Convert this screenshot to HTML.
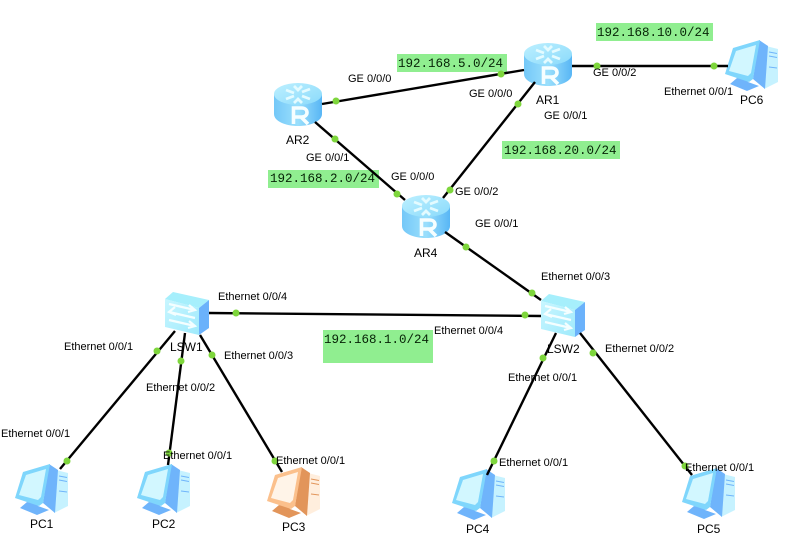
<!DOCTYPE html>
<html>
<head>
<meta charset="utf-8">
<style>
html,body{margin:0;padding:0;background:#fff;width:790px;height:554px;overflow:hidden}
svg{display:block}
text{font-family:"Liberation Sans",Arial,sans-serif;font-size:11px;fill:#000}
.n{font-size:12px}
.ip{font-family:"Liberation Mono",monospace;font-size:12.5px;fill:#062206}
</style>
</head>
<body>
<svg width="790" height="554" viewBox="0 0 790 554" xmlns="http://www.w3.org/2000/svg">
<defs>
<linearGradient id="rb" x1="0" x2="1" y1="0" y2="0"><stop offset="0" stop-color="#74c8f8"/><stop offset=".5" stop-color="#9adffc"/><stop offset="1" stop-color="#58b6f5"/></linearGradient>
<linearGradient id="rt" x1="0" x2="1" y1="0" y2="1"><stop offset="0" stop-color="#bdf0ff"/><stop offset="1" stop-color="#8adafb"/></linearGradient>
<linearGradient id="sf" x1="0" x2="1" y1="0" y2="1"><stop offset="0" stop-color="#c8f6ff"/><stop offset="1" stop-color="#9feafc"/></linearGradient>
<g id="router">
<path d="M0 11V31C0 38 11 43 24 43S48 38 48 31V11Z" fill="url(#rb)"/>
<ellipse cx="24" cy="11" rx="24" ry="11" fill="url(#rt)"/>
<g fill="none" stroke="#e4fbff" stroke-width="2.800">
<path d="M12 7l8 3M36 6l-8 3M12 16l8-3M36 16l-8-3M20 3l4 4 4-4M20 20l4-4 4 4"/>
</g>
<path d="M19.500 41V25h8c3.500 0 5.500 2 5.500 4.500S31 34 27.500 34h-8M27 34l7 7" fill="none" stroke="#f6feff" stroke-width="3.600"/>
</g>
<g id="switch">
<path d="M0 7L8 0 44 8 34 16Z" fill="#a6effc"/>
<path d="M34 16L44 8V36L34 43Z" fill="#6bb2fb"/>
<path d="M0 7L34 16V43L0 35Z" fill="url(#sf)"/>
<g fill="none" stroke="#f4feff" stroke-width="2.200">
<path d="M4 12L30 18M24 13l6 5-7 2"/>
<path d="M30 26L4 20M10 15l-6 5 7 3"/>
<path d="M4 28L30 34M24 29l6 5-7 2"/>
</g>
</g>
<g id="pc">
<path d="M41 6L53 9V42L39 49Z" style="fill:var(--t)"/>
<path d="M34 0L28 39 40 49 43 6Z" style="fill:var(--d)"/>
<path d="M44 12l8 1.500M44 16l8 1.500M44 27l8 1" style="stroke:var(--d);fill:none" stroke-width="1"/>
<path d="M12 38L22 40 23 42 34 46 22 51 5 44Z" style="fill:var(--d)"/>
<path d="M0 34L8 8 35 0 28 39 24 42Z" style="fill:var(--b)"/>
<path d="M4 31L11 11 31 5 26 33 23 36Z" style="fill:var(--s)"/>
</g>
</defs>

<rect x="397" y="54" width="110" height="18" fill="#90ee90"/>
<rect x="268" y="170" width="111" height="18" fill="#90ee90"/>
<rect x="596" y="23" width="117" height="18" fill="#90ee90"/>
<rect x="502" y="141" width="118" height="18" fill="#90ee90"/>
<rect x="323" y="330" width="110" height="33" fill="#90ee90"/>

<use href="#router" x="274" y="83"/>
<use href="#router" x="524" y="43"/>
<use href="#router" x="402" y="195"/>
<use href="#switch" x="165" y="292"/>
<use href="#switch" x="541" y="294"/>
<use href="#pc" x="15" y="464" style="--t:#c6f2ff;--d:#6fb4fb;--b:#7fd6fc;--s:#d2f7ff"/>
<use href="#pc" x="137" y="464" style="--t:#c6f2ff;--d:#6fb4fb;--b:#7fd6fc;--s:#d2f7ff"/>
<use href="#pc" x="267" y="467" style="--t:#ffeedd;--d:#e2955a;--b:#fbc08c;--s:#fff4e8"/>
<use href="#pc" x="452" y="469" style="--t:#c6f2ff;--d:#6fb4fb;--b:#7fd6fc;--s:#d2f7ff"/>
<use href="#pc" x="682" y="468" style="--t:#c6f2ff;--d:#6fb4fb;--b:#7fd6fc;--s:#d2f7ff"/>
<use href="#pc" x="725" y="40" style="--t:#c6f2ff;--d:#6fb4fb;--b:#7fd6fc;--s:#d2f7ff"/>

<g stroke="#000" stroke-width="2.400" fill="none">
<line x1="322" y1="104" x2="524" y2="70"/>
<line x1="315" y1="122" x2="405" y2="200"/>
<line x1="535" y1="82" x2="443" y2="198"/>
<line x1="572" y1="66" x2="728" y2="66"/>
<line x1="445" y1="232" x2="541" y2="300"/>
<line x1="209" y1="313" x2="541" y2="316"/>
<line x1="175" y1="331" x2="60" y2="469"/>
<line x1="185" y1="333" x2="168" y2="465"/>
<line x1="200" y1="335" x2="282" y2="472"/>
<line x1="556" y1="333" x2="487" y2="475"/>
<line x1="580" y1="333" x2="692" y2="475"/>
</g>

<g fill="#7ed63c">
<circle cx="336" cy="101" r="3.500"/><circle cx="501" cy="74" r="3.500"/>
<circle cx="335" cy="139" r="3.500"/><circle cx="397" cy="194" r="3.500"/>
<circle cx="518" cy="104" r="3.500"/><circle cx="450" cy="190" r="3.500"/>
<circle cx="597" cy="66" r="3.500"/><circle cx="714" cy="66" r="3.500"/>
<circle cx="466" cy="247" r="3.500"/><circle cx="532" cy="293" r="3.500"/>
<circle cx="236" cy="313" r="3.500"/><circle cx="525" cy="315" r="3.500"/>
<circle cx="157" cy="351" r="3.500"/><circle cx="67" cy="461" r="3.500"/>
<circle cx="181" cy="361" r="3.500"/><circle cx="169" cy="453" r="3.500"/>
<circle cx="212" cy="355" r="3.500"/><circle cx="275" cy="461" r="3.500"/>
<circle cx="543" cy="358" r="3.500"/><circle cx="494" cy="461" r="3.500"/>
<circle cx="593" cy="353" r="3.500"/><circle cx="685" cy="466" r="3.500"/>
</g>

<text class="ip" x="398" y="67">192.168.5.0/24</text>
<text class="ip" x="270" y="182">192.168.2.0/24</text>
<text class="ip" x="597" y="36">192.168.10.0/24</text>
<text class="ip" x="504" y="154">192.168.20.0/24</text>
<text class="ip" x="324" y="343">192.168.1.0/24</text>

<text x="348" y="82">GE 0/0/0</text>
<text x="469" y="97">GE 0/0/0</text>
<text x="306" y="161">GE 0/0/1</text>
<text x="391" y="180">GE 0/0/0</text>
<text x="455" y="195">GE 0/0/2</text>
<text x="593" y="76">GE 0/0/2</text>
<text x="664" y="95">Ethernet 0/0/1</text>
<text x="544" y="119">GE 0/0/1</text>
<text x="475" y="227">GE 0/0/1</text>
<text x="541" y="280">Ethernet 0/0/3</text>
<text x="434" y="334">Ethernet 0/0/4</text>
<text x="218" y="300">Ethernet 0/0/4</text>
<text x="224" y="359">Ethernet 0/0/3</text>
<text x="146" y="391">Ethernet 0/0/2</text>
<text x="64" y="350">Ethernet 0/0/1</text>
<text x="1" y="437">Ethernet 0/0/1</text>
<text x="163" y="459">Ethernet 0/0/1</text>
<text x="276" y="464">Ethernet 0/0/1</text>
<text x="499" y="466">Ethernet 0/0/1</text>
<text x="685" y="471">Ethernet 0/0/1</text>
<text x="508" y="381">Ethernet 0/0/1</text>
<text x="605" y="352">Ethernet 0/0/2</text>

<text class="n" x="536" y="104">AR1</text>
<text class="n" x="286" y="144">AR2</text>
<text class="n" x="414" y="257">AR4</text>
<text class="n" x="170" y="351">LSW1</text>
<text class="n" x="547" y="353">LSW2</text>
<text class="n" x="30" y="528">PC1</text>
<text class="n" x="152" y="528">PC2</text>
<text class="n" x="282" y="531">PC3</text>
<text class="n" x="466" y="533">PC4</text>
<text class="n" x="697" y="533">PC5</text>
<text class="n" x="740" y="104">PC6</text>
</svg>
</body>
</html>
